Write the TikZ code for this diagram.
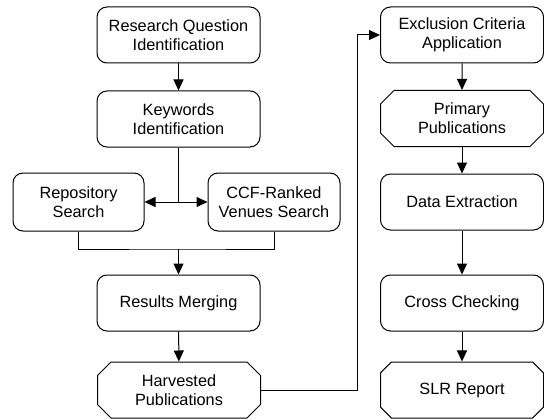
\documentclass[tikz,border=0pt]{standalone}
\usepackage{fontspec}
\setmainfont{Liberation Sans}
\usetikzlibrary{arrows.meta,shapes.misc}
\tikzset{
  proc/.style={draw, line width=1pt, rounded corners=10pt, align=center,
    minimum width=163pt, minimum height=56pt, inner sep=0pt},
  srch/.style={proc, minimum width=131pt, minimum height=58pt},
  data/.style={draw, line width=1pt, chamfered rectangle, chamfered rectangle xsep=10pt,
    align=center, minimum width=163pt, minimum height=56pt, inner sep=0pt},
  arr/.style={line width=1pt, -{Triangle[length=11pt,width=10pt]}}
}
\begin{document}
\begin{tikzpicture}[x=1pt,y=-1pt,font=\fontsize{16.3}{19}\selectfont]
\useasboundingbox (0,0) rectangle (544,420);
% left column
\node[proc] (rq) at (178.5,35) {Research Question\\Identification};
\node[proc] (kw) at (178.5,119) {Keywords\\Identification};
\node[srch] (repo) at (78.5,202) {Repository\\Search};
\node[srch, minimum width=132pt] (ccf) at (274,202) {CCF-Ranked\\Venues Search};
\node[proc] (merge) at (178.5,303) {Results Merging};
\node[data] (harv) at (179,390) {Harvested\\Publications};
% right column
\node[proc] (excl) at (462,35) {Exclusion Criteria\\Application};
\node[data] (prim) at (462,118.5) {Primary\\Publications};
\node[proc] (dext) at (462,202) {Data Extraction};
\node[proc] (cross) at (462,303) {Cross Checking};
\node[data] (slr) at (462,390) {SLR Report};
% junctions
\coordinate (split) at (kw.south |- repo.east);
\coordinate (join) at (178.5,249);
\coordinate (bend) at (357,390);
\draw[arr](rq) -- (kw);
\draw[line width=1pt](kw.south) -- (split);
\draw[arr](split) -- (repo.east);
\draw[arr](split) -- (ccf.west);
\draw[line width=1pt](repo.south) |- (join) -| (ccf.south);
\draw[arr](join) -- (merge.north);
\draw[arr](merge) -- (harv);
\draw[arr](harv.east) -- (bend) |- (excl.west);
\draw[arr](excl) -- (prim);
\draw[arr](prim) -- (dext);
\draw[arr](dext) -- (cross);
\draw[arr](cross) -- (slr);
\end{tikzpicture}
\end{document}
